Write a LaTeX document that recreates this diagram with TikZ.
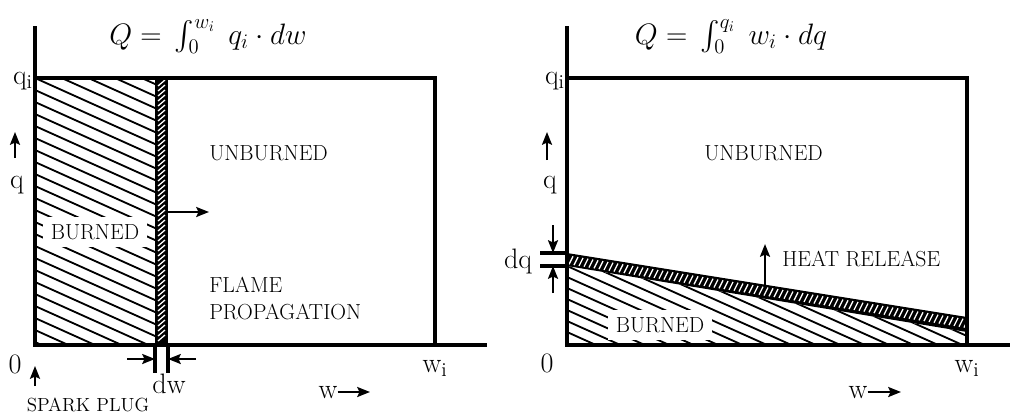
\RequirePackage{fix-cm}
\documentclass[tikz,border=0pt]{standalone}
\usepackage{amsmath}
\usetikzlibrary{arrows.meta}

\begin{document}
\begin{tikzpicture}[
    x=0.025cm, y=-0.025cm,
    wall/.style={line width=2.8pt},
    hatch/.style={line width=1.3pt},
    dimline/.style={line width=2.4pt},
    lbl/.style={font=\fontsize{20}{20}\selectfont, inner sep=0pt},
    txt/.style={font=\fontsize{15.5}{18}\selectfont, inner sep=0pt},
    note/.style={font=\fontsize{13.5}{16}\selectfont, inner sep=0pt},
    eqn/.style={font=\fontsize{21}{21}\selectfont, inner sep=0pt},
    tag/.style={txt, fill=white, inner xsep=5.5pt, inner ysep=5pt},
    arr/.style={-{Stealth[length=9pt, width=7pt, inset=1.5pt]}, line width=1.8pt}
]
    \useasboundingbox (0,0) rectangle (1010,414);

    % Left: flame propagation
    \begin{scope}
        \clip (35,78) rectangle (155,345);
        \foreach \k in {-5,...,22}
            \draw[hatch] (35,78+\k*12) -- ++(140,63);
    \end{scope}
    \node[tag] (burnL) at (95,232) {BURNED};

    % flame front
    \fill (155,78) rectangle (168,345);
    \foreach \y in {83,88,...,341}
        \draw[white, line width=0.9pt] (158,\y+3) -- (165,\y-3);

    \draw[wall] (35,26) -- (35,345) -- (487,345);
    \draw[wall] (35,78) -- (435,78) -- (435,345);

    \node[eqn, anchor=base] (eqL) at (208,44) {$Q=\,\int_0^{w_i}\; q_i\cdot dw$};
    \node[lbl, anchor=base east] (qiL) at (33,84) {q\textsubscript{i}};
    \node[lbl, anchor=base] (qL) at (17,188) {q};
    \coordinate (qLa) at (15,158);
    \coordinate (qLb) at (15,132);
    \draw[arr] (qLa) -- (qLb);
    \node[lbl, anchor=base] (zeroL) at (15,373) {0};
    \coordinate (plugA) at (35,386);
    \coordinate (plugB) at (35,366);
    \draw[arr] (plugA) -- (plugB);
    \node[note, anchor=base] (plug) at (88,411) {SPARK PLUG};

    \node[txt, anchor=base west] (unburnL) at (209,160) {UNBURNED};
    \node[txt, anchor=base west] (flame) at (209,292) {FLAME};
    \node[txt, anchor=base west] (prop) at (209,319) {PROPAGATION};
    \coordinate (frontA) at (168,212);
    \coordinate (frontB) at (209,212);
    \draw[arr] (frontA) -- (frontB);

    % dw
    \coordinate (dw1) at (155,345);
    \coordinate (dw2) at (168,345);
    \draw[dimline] (dw1) -- ++(0,28);
    \draw[dimline] (dw2) -- ++(0,28);
    \coordinate (dwA) at (127,359);
    \coordinate (dwB) at (196,359);
    \draw[arr] (dwA) -- (155,359);
    \draw[arr] (dwB) -- (168,359);
    \node[lbl, anchor=base] (dw) at (169,393) {dw};

    \node[lbl, anchor=base] (wiL) at (435,372) {w\textsubscript{i}};
    \node[lbl, anchor=base] (wL) at (328,398) {w};
    \coordinate (wLb) at (370,392);
    \draw[arr] (wL.east |- wLb) -- (wLb);

    % Right: heat release
    \begin{scope}
        \clip (567,266) -- (967,332) -- (967,345) -- (567,345) -- cycle;
        \foreach \k in {-11,...,8}
            \draw[hatch] (567,266+\k*11) -- ++(400,180);
    \end{scope}
    \node[tag] (burnR) at (660,325) {BURNED};

    % burning band
    \fill (567,253) -- (967,317) -- (967,332) -- (567,266) -- cycle;
    \begin{scope}
        \clip (567,253) -- (967,317) -- (967,332) -- (567,266) -- cycle;
        \foreach \x in {569,574,...,964} {
            \pgfmathsetmacro{\yt}{253+(\x-567)*0.16}
            \draw[white, line width=0.9pt] (\x,\yt+11) -- (\x+4,\yt+3);
        }
    \end{scope}

    \draw[wall] (567,26) -- (567,345) -- (1010,345);
    \draw[wall] (567,78) -- (967,78) -- (967,345);

    \node[eqn, anchor=base] (eqR) at (731,44) {$Q=\,\int_0^{q_i}\; w_i\cdot dq$};
    \node[lbl, anchor=base east] (qiR) at (565,84) {q\textsubscript{i}};
    \node[lbl, anchor=base] (qR) at (550,188) {q};
    \coordinate (qRa) at (547,160);
    \coordinate (qRb) at (547,132);
    \draw[arr] (qRa) -- (qRb);
    \node[txt, anchor=base west] (unburnR) at (704,160) {UNBURNED};

    % dq
    \coordinate (dq1) at (567,253);
    \coordinate (dq2) at (567,266);
    \draw[dimline] (dq1) -- ++(-27,0);
    \draw[dimline] (dq2) -- ++(-27,0);
    \coordinate (dqA) at (553,225);
    \coordinate (dqB) at (553,293);
    \draw[arr] (dqA) -- (553,253);
    \draw[arr] (dqB) -- (553,266);
    \node[lbl, anchor=base] (dq) at (518,268) {dq};

    \coordinate (heatA) at (765,285);
    \coordinate (heatB) at (765,244);
    \draw[arr] (heatA) -- (heatB);
    \node[txt, anchor=base west] (heat) at (782,266) {HEAT RELEASE};

    \node[lbl, anchor=base] (zeroR) at (547,372) {0};
    \node[lbl, anchor=base] (wiR) at (967,372) {w\textsubscript{i}};
    \node[lbl, anchor=base] (wR) at (858,398) {w};
    \coordinate (wRb) at (901,392);
    \draw[arr] (wR.east |- wRb) -- (wRb);
\end{tikzpicture}
\end{document}
